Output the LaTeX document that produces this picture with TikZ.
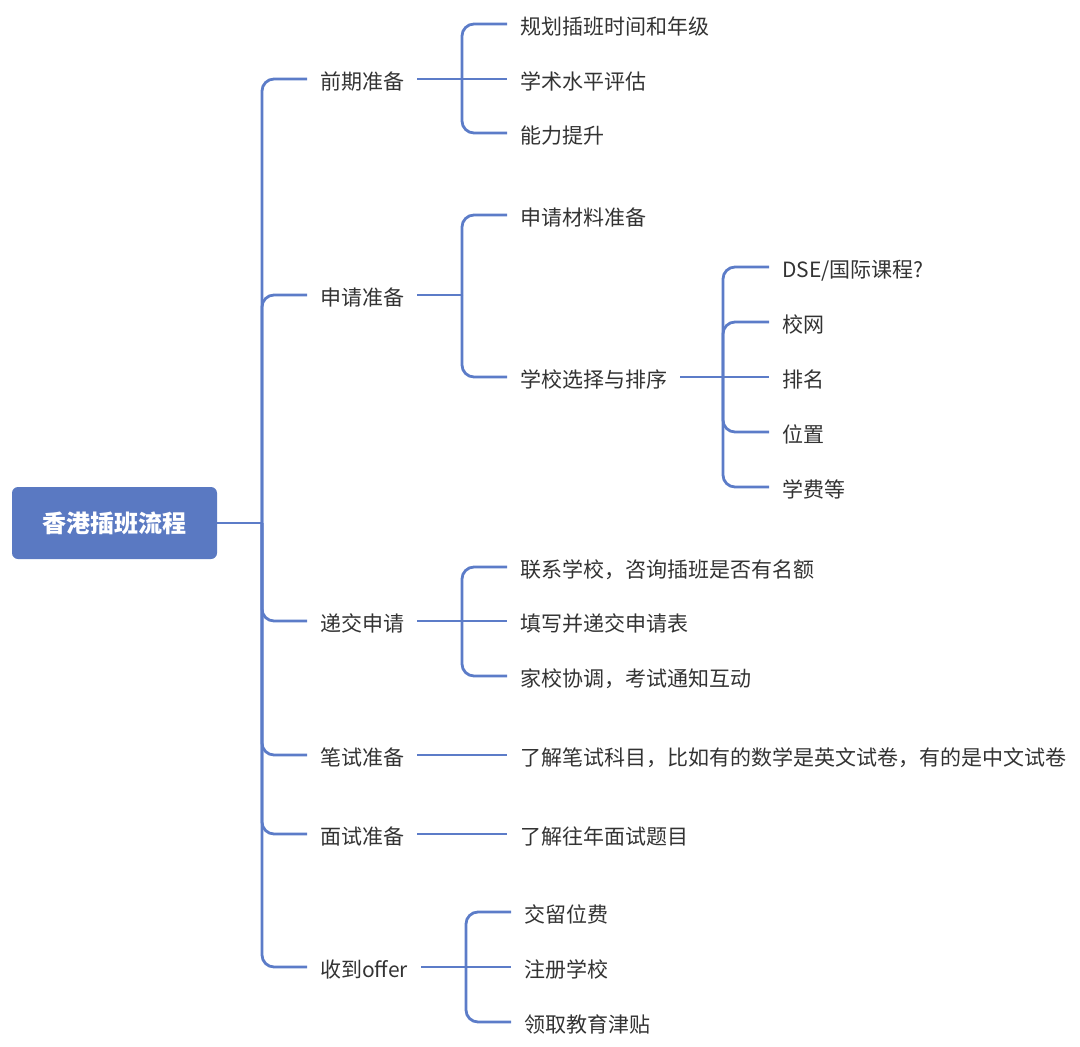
\documentclass[tikz,border=0pt]{standalone}
\usepackage{fontspec}
\newfontfamily\cjk{Noto Sans CJK SC}
\definecolor{lnc}{RGB}{92,124,200}
\definecolor{boxc}{RGB}{90,121,194}
\definecolor{txt}{RGB}{51,51,51}
\tikzset{
  lbl/.style={anchor=west, inner xsep=13pt, inner ysep=0pt, text height=22pt, text depth=2pt, font=\cjk\fontsize{21}{25}\selectfont, text=txt},
  conn/.style={draw=lnc, line width=2.8pt, rounded corners=12pt},
  rootbox/.style={fill=boxc, rounded corners=6pt, minimum width=205pt, minimum height=72pt, inner sep=0pt, text=white, font=\cjk\bfseries\fontsize{24}{28}\selectfont}
}
\begin{document}
\begin{tikzpicture}[x=1pt,y=-1pt]
\useasboundingbox (0,0) rectangle (1080,1047);
% root
\node[rootbox] (root) at (114.5,523) {香港插班流程};
% level 1
\node[lbl] (p1) at (307,79) {前期准备};
\node[lbl] (p2) at (307,295) {申请准备};
\node[lbl] (p3) at (307,621) {递交申请};
\node[lbl] (p4) at (307,755) {笔试准备};
\node[lbl] (p5) at (307,834) {面试准备};
\node[lbl] (p6) at (307,967) {收到offer};
% level 2
\node[lbl] (a1) at (507,24) {规划插班时间和年级};
\node[lbl] (a2) at (507,79) {学术水平评估};
\node[lbl] (a3) at (507,133) {能力提升};
\node[lbl] (b1) at (507,215) {申请材料准备};
\node[lbl] (b2) at (507,377) {学校选择与排序};
\node[lbl] (c1) at (507,567) {联系学校，咨询插班是否有名额};
\node[lbl] (c2) at (507,621) {填写并递交申请表};
\node[lbl] (c3) at (507,676) {家校协调，考试通知互动};
\node[lbl] (d1) at (507,755) {了解笔试科目，比如有的数学是英文试卷，有的是中文试卷};
\node[lbl] (e1) at (507,834) {了解往年面试题目};
\node[lbl] (f1) at (511,912) {交留位费};
\node[lbl] (f2) at (511,967) {注册学校};
\node[lbl] (f3) at (511,1022) {领取教育津贴};
% level 3
\node[lbl] (s1) at (769,267) {DSE/国际课程?};
\node[lbl] (s2) at (769,322) {校网};
\node[lbl] (s3) at (769,377) {排名};
\node[lbl] (s4) at (769,432) {位置};
\node[lbl] (s5) at (769,487) {学费等};
% junctions
\coordinate (J0) at (262,523);
\coordinate (J1) at (462,79);
\coordinate (J2) at (462,295);
\coordinate (J3) at (462,621);
\coordinate (J6) at (466,967);
\coordinate (JB) at (723,377);
% connectors
\draw[conn] (root.east) -- (J0);
\foreach \n in {p1,p2,p3,p4,p5,p6} \draw[conn] (J0) |- (\n.west);
\draw[conn] (p1.east) -- (a2.west);
\draw[conn] (J1) |- (a1.west);
\draw[conn] (J1) |- (a3.west);
\draw[conn] (p2.east) -- (J2);
\draw[conn] (J2) |- (b1.west);
\draw[conn] (J2) |- (b2.west);
\draw[conn] (p3.east) -- (c2.west);
\draw[conn] (J3) |- (c1.west);
\draw[conn] (J3) |- (c3.west);
\draw[conn] (p4.east) -- (d1.west);
\draw[conn] (p5.east) -- (e1.west);
\draw[conn] (p6.east) -- (f2.west);
\draw[conn] (J6) |- (f1.west);
\draw[conn] (J6) |- (f3.west);
\draw[conn] (b2.east) -- (s3.west);
\foreach \n in {s1,s2,s4,s5} \draw[conn] (JB) |- (\n.west);
\end{tikzpicture}
\end{document}
